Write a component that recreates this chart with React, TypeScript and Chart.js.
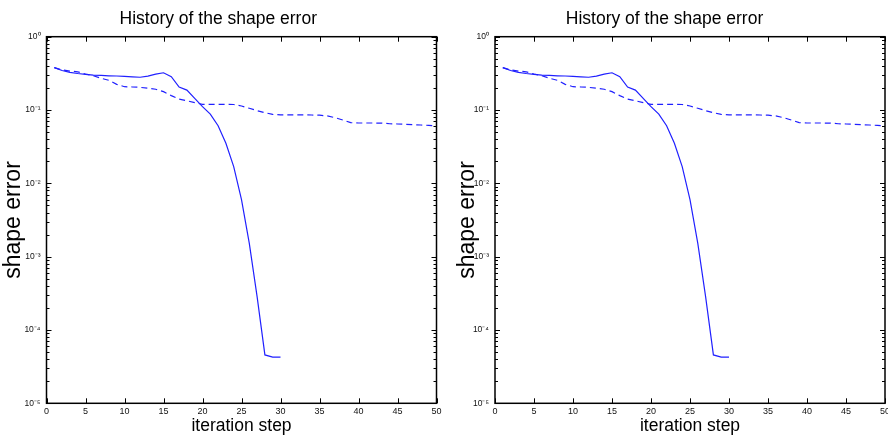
import React, { useEffect, useRef } from "react";
import { Chart, registerables } from "chart.js";

Chart.register(...registerables);

// ---- data ----
const iterationsSolid = [
  1, 2, 3, 4, 5, 6, 7, 8, 9, 10, 11, 12, 13, 14, 15, 16, 17, 18, 19, 20,
  21, 22, 23, 24, 25, 26, 27, 28, 29, 30,
];
const solidError = [
  0.378, 0.346, 0.327, 0.315, 0.307, 0.3, 0.296, 0.293, 0.291, 0.288,
  0.284, 0.28, 0.29, 0.308, 0.322, 0.285, 0.206, 0.187, 0.1445, 0.111,
  0.088, 0.061, 0.0352, 0.0169, 0.006, 0.00152, 0.000285, 0.0000457,
  0.0000426, 0.0000426,
];
const iterationsDashed = [
  1, 2, 3, 4, 5, 6, 7, 8, 9, 10, 11, 12, 13, 14, 15, 16, 17, 18, 19, 20,
  21, 22, 23, 24, 25, 26, 27, 28, 29, 30, 31, 32, 33, 34, 35, 36, 37, 38,
  39, 40, 41, 42, 43, 44, 45, 46, 47, 48, 49, 50,
];
const dashedError = [
  0.378, 0.352, 0.34, 0.332, 0.31, 0.294, 0.271, 0.254, 0.224, 0.208,
  0.206, 0.204, 0.198, 0.192, 0.178, 0.157, 0.141, 0.134, 0.126, 0.1197,
  0.1197, 0.1197, 0.1197, 0.119, 0.1135, 0.1056, 0.098, 0.092, 0.087,
  0.086, 0.086, 0.086, 0.086, 0.0855, 0.085, 0.083, 0.0786, 0.0731,
  0.0672, 0.0665, 0.0665, 0.0665, 0.0663, 0.065, 0.0645, 0.0638, 0.063,
  0.0625, 0.0617, 0.0605,
];
const xTickValues = [0, 5, 10, 15, 20, 25, 30, 35, 40, 45, 50];
const yDecades = [1e-5, 1e-4, 1e-3, 1e-2, 1e-1, 1];
const yTickLabels = ["10⁻⁵", "10⁻⁴", "10⁻³", "10⁻²", "10⁻¹", "10⁰"];
const titleText = "History of the shape error";
const xLabel = "iteration step";
const yLabel = "shape error";

const SANS = "'Liberation Sans', Arial, sans-serif";
const LINE_COLOR = "#2020ff";

const boxPlugin = {
  id: "matlabBox",
  afterDraw(chart: any) {
    const { ctx, chartArea } = chart;
    const { left, right, top, bottom } = chartArea;
    const xs = chart.scales.x;
    const ys = chart.scales.y;
    ctx.save();
    ctx.strokeStyle = "#000";
    ctx.lineWidth = 1;
    ctx.beginPath();
    xTickValues.forEach((v) => {
      const px = Math.round(xs.getPixelForValue(v)) + 0.5;
      ctx.moveTo(px, bottom);
      ctx.lineTo(px, bottom - 5);
      ctx.moveTo(px, top);
      ctx.lineTo(px, top + 5);
    });
    yDecades.forEach((d, i) => {
      const py = Math.round(ys.getPixelForValue(d)) + 0.5;
      ctx.moveTo(left, py);
      ctx.lineTo(left + 5, py);
      ctx.moveTo(right, py);
      ctx.lineTo(right - 5, py);
      if (i < yDecades.length - 1) {
        for (let k = 2; k <= 9; k++) {
          const pm = Math.round(ys.getPixelForValue(d * k)) + 0.5;
          ctx.moveTo(left, pm);
          ctx.lineTo(left + 3, pm);
          ctx.moveTo(right, pm);
          ctx.lineTo(right - 3, pm);
        }
      }
    });
    ctx.stroke();
    ctx.lineWidth = 1.5;
    ctx.strokeRect(left, top, right - left, bottom - top);
    ctx.restore();
  },
};

function ErrorChart(props: { axisWidth: number; rightPad: number; yTitlePad: number }) {
  const ref = useRef<HTMLCanvasElement | null>(null);
  useEffect(() => {
    if (!ref.current) return;
    const chart = new Chart(ref.current, {
      type: "line",
      data: {
        datasets: [
          {
            data: iterationsSolid.map((x, i) => ({ x, y: solidError[i] })),
            borderColor: LINE_COLOR,
            borderWidth: 1.2,
            pointRadius: 0,
            fill: false,
            tension: 0,
          },
          {
            data: iterationsDashed.map((x, i) => ({ x, y: dashedError[i] })),
            borderColor: LINE_COLOR,
            borderWidth: 1.2,
            borderDash: [6, 4],
            pointRadius: 0,
            fill: false,
            tension: 0,
          },
        ],
      },
      options: {
        responsive: false,
        animation: false,
        devicePixelRatio: 1,
        layout: { padding: { left: 0, right: props.rightPad, top: 0, bottom: 0 } },
        plugins: {
          legend: { display: false },
          tooltip: { enabled: false },
          title: {
            display: true,
            text: titleText,
            color: "#000",
            font: { family: SANS, size: 17.5, weight: "normal", lineHeight: 1.2 },
            padding: { top: 8.2, bottom: 7.5 },
          },
        },
        scales: {
          x: {
            type: "linear",
            min: 0,
            max: 50,
            grid: { display: false, drawTicks: false },
            border: { display: false },
            afterBuildTicks: (s: any) => {
              s.ticks = xTickValues.map((v) => ({ value: v }));
            },
            ticks: {
              autoSkip: false,
              maxRotation: 0,
              padding: 3,
              color: "#111",
              font: { family: SANS, size: 9 },
            },
            title: {
              display: true,
              text: xLabel,
              color: "#000",
              font: { family: SANS, size: 17.5, lineHeight: 1 },
              padding: { top: 0, bottom: 2.6 },
            },
            afterFit: (s: any) => {
              s.height = 34.7;
              s.paddingLeft = 0;
              s.paddingRight = 0;
            },
          },
          y: {
            type: "logarithmic",
            min: 1e-5,
            max: 1,
            grid: { display: false, drawTicks: false },
            border: { display: false },
            afterBuildTicks: (s: any) => {
              s.ticks = yDecades.map((v) => ({ value: v }));
            },
            ticks: {
              autoSkip: false,
              padding: 6,
              color: "#111",
              font: { family: SANS, size: 8.5 },
              callback: (v: any) => {
                const idx = yDecades.findIndex(
                  (d) => Math.abs(Math.log10(d) - Math.log10(Number(v))) < 1e-6
                );
                return idx >= 0 ? yTickLabels[idx] : "";
              },
            },
            title: {
              display: true,
              text: yLabel,
              color: "#000",
              font: { family: SANS, size: 23, lineHeight: 1 },
              padding: { top: props.yTitlePad, bottom: 0 },
            },
            afterFit: (s: any) => {
              s.width = props.axisWidth;
              s.paddingTop = 0;
              s.paddingBottom = 0;
            },
          },
        },
      } as any,
      plugins: [boxPlugin],
    });
    return () => chart.destroy();
  }, []);
  return <canvas ref={ref} width={444} height={438} style={{ display: "block" }} />;
}

export default function App() {
  return (
    <div
      style={{
        position: "fixed",
        left: 0,
        top: 0,
        width: 888,
        height: 438,
        display: "flex",
        background: "#fff",
      }}
    >
      <ErrorChart axisWidth={46.5} rightPad={7.5} yTitlePad={2} />
      <ErrorChart axisWidth={51} rightPad={3} yTitlePad={12} />
    </div>
  );
}
